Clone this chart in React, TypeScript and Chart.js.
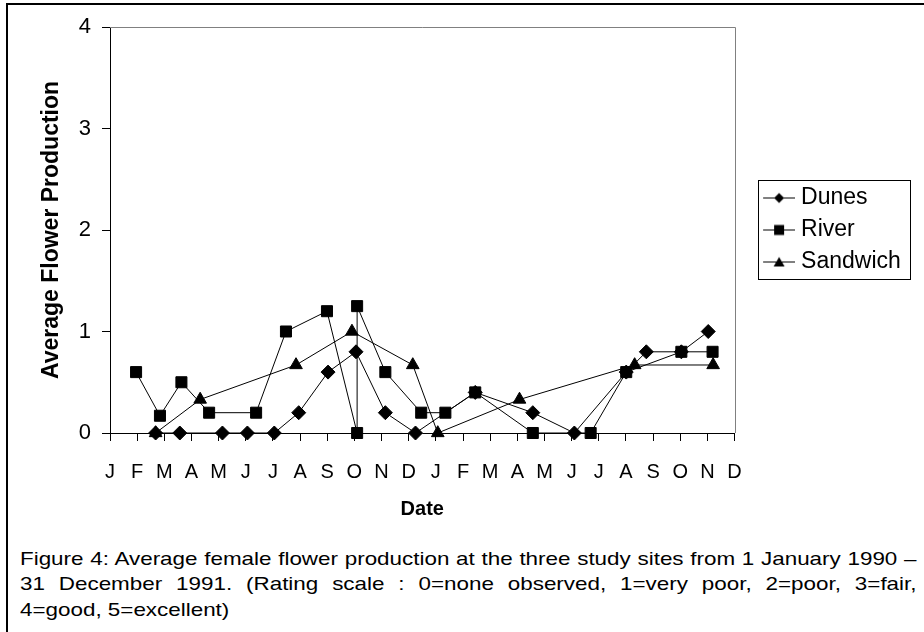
import React, { useEffect, useRef } from "react";
import { Chart, registerables } from "chart.js";

Chart.register(...registerables);

// ---- data ----
const monthLabels = ["J", "F", "M", "A", "M", "J", "J", "A", "S", "O", "N", "D", "J", "F", "M", "A", "M", "J", "J", "A", "S", "O", "N", "D"];
const seriesNames = ["Dunes", "River", "Sandwich"];

// x in months from 1 January 1990 (0 = J 1990, 23 = D 1991)
const dunesX = [1.68, 2.57, 4.14, 5.06, 6.05, 6.95, 8.03, 9.06, 10.14, 11.25, 13.45, 15.57, 17.1, 19.01, 19.75, 21.04, 22.03];
const dunesY = [0, 0, 0, 0, 0, 0.2, 0.6, 0.8, 0.2, 0, 0.4, 0.2, 0, 0.6, 0.8, 0.8, 1.0];

const riverX = [0.96, 1.84, 2.63, 3.65, 5.38, 6.48, 7.99, 9.1, 9.1, 10.14, 11.46, 12.35, 13.45, 15.57, 17.7, 19.01, 21.04, 22.19];
const riverY = [0.6, 0.17, 0.5, 0.2, 0.2, 1.0, 1.2, 0, 1.25, 0.6, 0.2, 0.2, 0.4, 0, 0, 0.6, 0.8, 0.8];

const sandwichX = [1.68, 3.32, 6.85, 8.91, 11.15, 12.07, 15.08, 19.32, 22.21];
const sandwichY = [0, 0.33, 0.67, 1.0, 0.67, 0, 0.33, 0.67, 0.67];

const yMin = 0;
const yMax = 4;

const captionText =
  "Figure 4: Average female flower production at the three study sites from 1 January 1990 \u2013 31 December 1991. (Rating scale : 0=none observed, 1=very poor, 2=poor, 3=fair, 4=good, 5=excellent)";

const FONT = '"Liberation Sans", Arial, Helvetica, sans-serif';

function makeLegendIcon(kind: string): HTMLCanvasElement {
  const c = document.createElement("canvas");
  c.width = 57;
  c.height = 15;
  const ctx = c.getContext("2d")!;
  ctx.strokeStyle = "#000";
  ctx.fillStyle = "#000";
  ctx.lineWidth = 1;
  ctx.beginPath();
  ctx.moveTo(25, 7.5);
  ctx.lineTo(57, 7.5);
  ctx.stroke();
  const cx = 41;
  const cy = 7.5;
  ctx.beginPath();
  if (kind === "rectRot") {
    ctx.moveTo(cx, cy - 5);
    ctx.lineTo(cx + 5, cy);
    ctx.lineTo(cx, cy + 5);
    ctx.lineTo(cx - 5, cy);
    ctx.closePath();
    ctx.fill();
  } else if (kind === "rect") {
    ctx.fillRect(cx - 5, cy - 5, 10, 10);
  } else {
    ctx.moveTo(cx, cy - 5);
    ctx.lineTo(cx + 5.5, cy + 4.5);
    ctx.lineTo(cx - 5.5, cy + 4.5);
    ctx.closePath();
    ctx.fill();
  }
  return c;
}

const plotFrame = {
  id: "plotFrame",
  beforeDatasetsDraw(chart: any) {
    const { ctx, chartArea } = chart;
    ctx.save();
    ctx.strokeStyle = "#808080";
    ctx.lineWidth = 1;
    ctx.beginPath();
    ctx.moveTo(chartArea.left, Math.round(chartArea.top) + 0.5);
    ctx.lineTo(Math.round(chartArea.right) + 0.5, Math.round(chartArea.top) + 0.5);
    ctx.lineTo(Math.round(chartArea.right) + 0.5, chartArea.bottom);
    ctx.stroke();
    ctx.restore();
  },
};

const legendBorder = {
  id: "legendBorder",
  afterDraw(chart: any) {
    const lg = chart.legend;
    if (!lg) return;
    const { ctx, chartArea } = chart;
    const mid = (chartArea.top + chartArea.bottom) / 2;
    ctx.save();
    ctx.strokeStyle = "#000";
    ctx.lineWidth = 1;
    ctx.strokeRect(Math.round(lg.left + 23) + 0.5, Math.round(mid - 50) + 0.5, 152, 99);
    ctx.restore();
  },
};

export default function App() {
  const canvasRef = useRef<HTMLCanvasElement | null>(null);

  useEffect(() => {
    const canvas = canvasRef.current;
    if (!canvas) return;
    const styles = ["rectRot", "rect", "triangle"];
    const radii = [7, 7.8, 7.3];
    const xs = [dunesX, riverX, sandwichX];
    const ys = [dunesY, riverY, sandwichY];
    const orders = [3, 2, 1];
    const icons = styles.map((s) => makeLegendIcon(s));

    const datasets = seriesNames.map((name, i) => ({
      label: name,
      data: xs[i].map((x, j) => ({ x, y: ys[i][j] })),
      borderColor: "#000",
      backgroundColor: "#000",
      borderWidth: 1,
      pointStyle: styles[i],
      pointRadius: radii[i],
      pointHoverRadius: radii[i],
      pointBackgroundColor: "#000",
      pointBorderColor: "#000",
      pointBorderWidth: 1,
      tension: 0,
      fill: false,
      clip: false,
      order: orders[i],
    }));

    const chart = new Chart(canvas, {
      type: "line",
      data: { datasets } as any,
      plugins: [plotFrame, legendBorder],
      options: {
        animation: false,
        responsive: false,
        maintainAspectRatio: false,
        events: [],
        layout: { padding: { left: 0, top: 27, right: 13.2, bottom: 0 } },
        plugins: {
          tooltip: { enabled: false },
          legend: {
            display: true,
            position: "right",
            fullSize: false,
            align: "center",
            labels: {
              usePointStyle: true,
              pointStyleWidth: 46,
              padding: 9,
              color: "#000",
              font: { family: FONT, size: 23 },
              generateLabels: (ch: any) =>
                ch.data.datasets.map((ds: any, i: number) => ({
                  text: ds.label,
                  pointStyle: icons[i],
                  fillStyle: "#000",
                  strokeStyle: "#000",
                  lineWidth: 0,
                  hidden: false,
                  datasetIndex: i,
                  fontColor: "#000",
                })),
            },
          },
        },
        scales: {
          x: {
            type: "linear",
            min: 0,
            max: monthLabels.length - 1,
            ticks: {
              stepSize: 1,
              autoSkip: false,
              maxRotation: 0,
              minRotation: 0,
              color: "#000",
              padding: 19,
              font: { family: FONT, size: 20 },
              callback: (v: any) => monthLabels[Math.round(Number(v))] ?? "",
            },
            grid: { drawOnChartArea: false, color: "#000", tickLength: 8, lineWidth: 1 },
            border: { display: true, color: "#000", width: 1 },
            title: {
              display: true,
              text: "Date",
              color: "#000",
              font: { family: FONT, size: 20, weight: "bold" },
              padding: { top: 0, bottom: 9 },
            },
            afterFit: (s: any) => {
              s.height = 97;
            },
          },
          y: {
            type: "linear",
            min: yMin,
            max: yMax,
            ticks: {
              stepSize: 1,
              color: "#000",
              padding: 11,
              font: { family: FONT, size: 22 },
            },
            grid: { drawOnChartArea: false, color: "#000", tickLength: 8, lineWidth: 1 },
            border: { display: true, color: "#000", width: 1 },
            title: {
              display: true,
              text: "Average Flower Production",
              color: "#000",
              font: { family: FONT, size: 23, weight: "bold" },
              padding: { top: 38, bottom: 0 },
            },
            afterFit: (s: any) => {
              s.width = 110;
            },
          },
        },
      } as any,
    });
    return () => chart.destroy();
  }, []);

  return (
    <div
      style={{
        position: "absolute",
        left: 0,
        top: 0,
        width: 924,
        height: 632,
        overflow: "hidden",
        background: "#fff",
      }}
    >
      <div
        style={{
          position: "absolute",
          left: 6,
          top: 3,
          width: 940,
          height: 660,
          borderLeft: "2px solid #000",
          borderTop: "2px solid #000",
        }}
      />
      <canvas
        ref={canvasRef}
        width={924}
        height={530}
        style={{ position: "absolute", left: 0, top: 0, width: 924, height: 530, display: "block" }}
      />
      <div
        style={{
          position: "absolute",
          left: 20,
          top: 545.7,
          width: 744,
          fontFamily: FONT,
          fontSize: 18.6,
          lineHeight: "25.7px",
          textAlign: "justify",
          color: "#000",
          transform: "scaleX(1.205)",
          transformOrigin: "0 0",
        }}
      >
        {captionText}
      </div>
    </div>
  );
}
